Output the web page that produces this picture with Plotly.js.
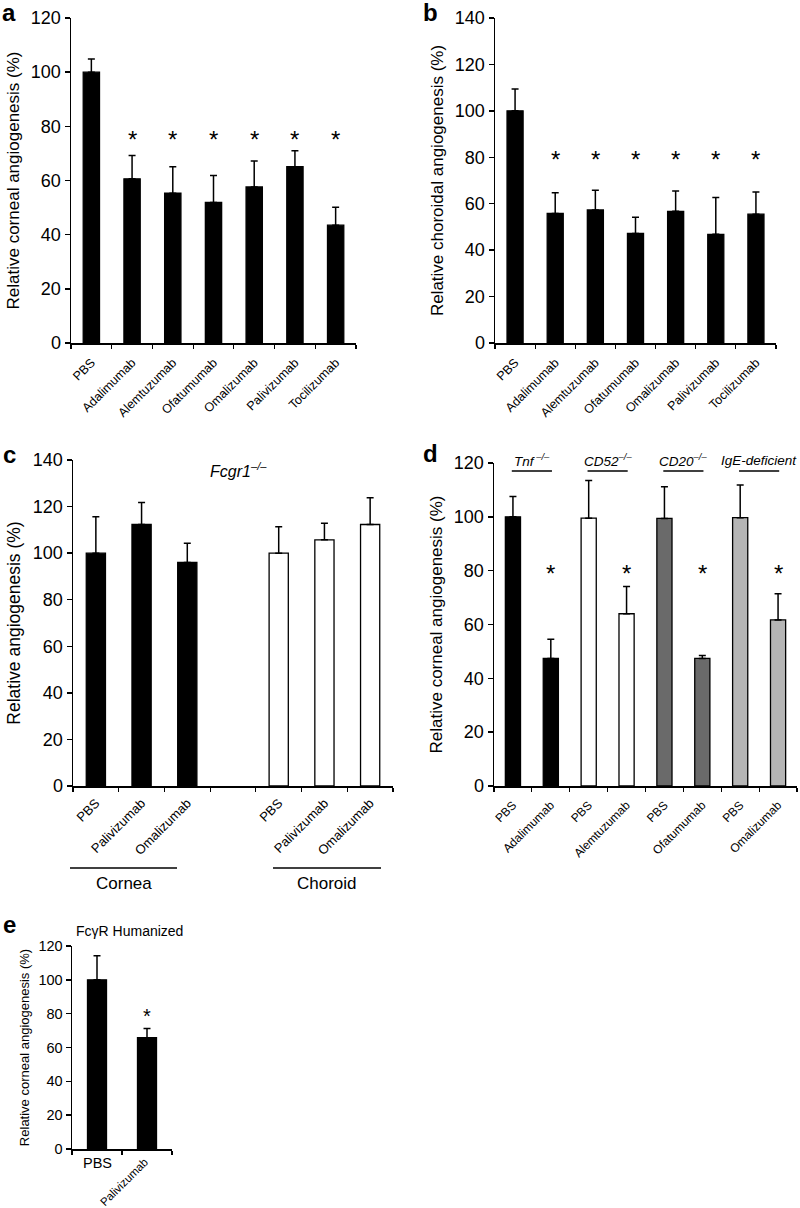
<!DOCTYPE html>
<html><head><meta charset="utf-8">
<script src="https://cdn.plot.ly/plotly-3.0.1.min.js"></script>
<style>html,body{margin:0;padding:0;background:#fff;} #chart{width:800px;height:1208px;}</style>
</head><body><div id="chart"></div>
<script>
// ---------- DATA ----------
// Panel a: relative corneal angiogenesis
const aLabels = ['PBS','Adalimumab','Alemtuzumab','Ofatumumab','Omalizumab','Palivizumab','Tocilizumab'];
const aValues = [100, 60.6, 55.3, 51.9, 57.6, 65.1, 43.5];
const aErrors = [4.9, 8.6, 9.8, 9.9, 9.6, 5.9, 6.6];
const aSignificant = [false, true, true, true, true, true, true];

// Panel b: relative choroidal angiogenesis
const bLabels = ['PBS','Adalimumab','Alemtuzumab','Ofatumumab','Omalizumab','Palivizumab','Tocilizumab'];
const bValues = [100, 55.8, 57.3, 47.2, 56.7, 46.8, 55.5];
const bErrors = [9.4, 8.9, 8.5, 7.0, 8.8, 15.9, 9.5];
const bSignificant = [false, true, true, true, true, true, true];

// Panel c: Fcgr1-/- relative angiogenesis
const cLabels = ['PBS','Palivizumab','Omalizumab'];
const cCornea = [100, 112.3, 96.0];
const cCorneaErr = [15.6, 9.5, 8.2];
const cChoroid = [100, 105.7, 112.3];
const cChoroidErr = [11.3, 7.1, 11.5];
const cTissues = ['Cornea','Choroid'];

// Panel d: knockout mice
const dGroups = ['Tnf<sup> –/–</sup>','CD52<sup>–/–</sup>','CD20<sup>–/–</sup>','IgE-deficient'];
const dDrugs = ['Adalimumab','Alemtuzumab','Ofatumumab','Omalizumab'];
const dPBS = [100, 99.5, 99.4, 99.7];
const dPBSErr = [7.6, 14.0, 11.8, 12.1];
const dDrug = [47.4, 64.0, 47.4, 61.7];
const dDrugErr = [7.1, 10.1, 1.1, 9.7];
const dColors = ['#000000','#ffffff','#6a6a6a','#b5b5b5'];

// Panel e: FcγR humanized
const eLabels = ['PBS','Palivizumab'];
const eValues = [100, 65.8];
const eErrors = [14.2, 5.5];
const eSignificant = [false, true];

// ---------- HELPERS ----------
const W = 800, H = 1208;
const FONT = 'Liberation Sans, Arial, sans-serif';
const px = p => p / W;
const py = p => 1 - p / H;

function bar(xs, ys, errs, color, ax, width) {
  return {
    type: 'bar', x: xs, y: ys, width: width,
    marker: {color: color, line: {color: '#000', width: 1.3}},
    error_y: {type: 'data', symmetric: false, array: errs, arrayminus: errs.map(() => 0),
              color: '#000', thickness: 1.5, width: 3.5},
    xaxis: 'x' + (ax === 1 ? '' : ax), yaxis: 'y' + (ax === 1 ? '' : ax),
    showlegend: false, hoverinfo: 'skip'
  };
}

function xAxis(domPx, n, tickvals, ticktext, fontSize, anchor, showLabels, standoff) {
  const bounds = [];
  for (let i = 0; i <= n; i++) bounds.push(i - 0.5);
  return {
    domain: [px(domPx[0]), px(domPx[1])], range: [-0.5, n - 0.5], anchor: anchor,
    showline: true, linecolor: '#000', linewidth: 1.5, zeroline: false, showgrid: false,
    tickmode: 'array', tickvals: tickvals, ticktext: ticktext, ticks: '',
    showticklabels: showLabels, tickangle: -45, ticklabelstandoff: standoff,
    tickfont: {family: FONT, size: fontSize, color: '#000'},
    minor: {tickmode: 'array', tickvals: bounds, ticks: 'outside', ticklen: 4, tickwidth: 1.2,
            tickcolor: '#000', showgrid: false},
    fixedrange: true
  };
}

function yAxis(domPx, max, title, fontSize, titleSize, anchor, standoff) {
  return {
    domain: [py(domPx[1]), py(domPx[0])], range: [0, max], anchor: anchor,
    tickmode: 'linear', tick0: 0, dtick: 20,
    showline: true, linecolor: '#000', linewidth: 1.5, zeroline: false, showgrid: false,
    ticks: 'outside', ticklen: 5, tickwidth: 1.5, tickcolor: '#000',
    tickfont: {family: FONT, size: fontSize, color: '#000'},
    title: {text: title, font: {family: FONT, size: titleSize, color: '#000'}, standoff: standoff},
    fixedrange: true
  };
}

const idx = arr => arr.map((_, i) => i);

// ---------- TRACES ----------
const traces = [];
traces.push(bar(idx(aValues), aValues, aErrors, '#000', 1, 0.4));
traces.push(bar(idx(bValues), bValues, bErrors, '#000', 2, 0.4));
const cCorneaX = idx(cCornea);
const cChoroidX = cChoroid.map((_, i) => i + cCornea.length + 1);
traces.push(bar(cCorneaX, cCornea, cCorneaErr, '#000', 3, 0.42));
traces.push(bar(cChoroidX, cChoroid, cChoroidErr, '#fff', 3, 0.42));
dGroups.forEach((g, i) => {
  traces.push(bar([2 * i, 2 * i + 1], [dPBS[i], dDrug[i]], [dPBSErr[i], dDrugErr[i]], dColors[i], 4, 0.4));
});
traces.push(bar(idx(eValues), eValues, eErrors, '#000', 5, 0.38));

// ---------- ANNOTATIONS / SHAPES ----------
const annotations = [];
const shapes = [];
function star(ax, x, y, size) {
  annotations.push({xref: 'x' + (ax === 1 ? '' : ax), yref: 'y' + (ax === 1 ? '' : ax), x: x, y: y,
    text: '*', showarrow: false, yshift: -6, font: {family: FONT, size: size, color: '#000'}});
}
aSignificant.forEach((s, i) => { if (s) star(1, i, 77.5, 24); });
bSignificant.forEach((s, i) => { if (s) star(2, i, 81.5, 24); });
dDrug.forEach((_, i) => star(4, 2 * i + 1, 81, 24));
eSignificant.forEach((s, i) => { if (s) star(5, i, 82, 20); });

function letter(t, x, y) {
  annotations.push({xref: 'paper', yref: 'paper', x: px(x), y: py(y), text: '<b>' + t + '</b>',
    showarrow: false, xanchor: 'center', yanchor: 'middle', font: {family: FONT, size: 24, color: '#000'}});
}
letter('a', 9, 12); letter('b', 431, 12); letter('c', 9, 455); letter('d', 431, 453); letter('e', 9, 924);

function text(t, x, y, size, extra) {
  annotations.push(Object.assign({xref: 'paper', yref: 'paper', x: px(x), y: py(y), text: t,
    showarrow: false, xanchor: 'center', yanchor: 'middle', font: {family: FONT, size: size, color: '#000'}}, extra || {}));
}
// panel c title and tissue groups
text('<i>Fcgr1</i><sup><i>–/–</i></sup>', 238, 470, 16);
const tissueSpans = [[70, 177], [273, 381]];
cTissues.forEach((t, i) => {
  shapes.push({type: 'line', xref: 'paper', yref: 'paper', x0: px(tissueSpans[i][0]), x1: px(tissueSpans[i][1]),
    y0: py(868), y1: py(868), line: {color: '#000', width: 1.5}});
  text(t, (tissueSpans[i][0] + tissueSpans[i][1]) / 2, 883, 17);
});
// panel d group labels
dGroups.forEach((g, i) => {
  shapes.push({type: 'line', xref: 'x4', yref: 'paper', x0: 2 * i - 0.03, x1: 2 * i + 1.03,
    y0: py(471), y1: py(471), line: {color: '#000', width: 1.5}});
  annotations.push({xref: 'x4', yref: 'paper', x: 2 * i + 0.5, y: py(460), text: '<i>' + g + '</i>',
    showarrow: false, xanchor: 'center', yanchor: 'middle', font: {family: FONT, size: 13.5, color: '#000'}});
});
// panel e title + category labels
text('Fcγ<span>R</span> Humanized', 129, 931, 14);
annotations.push({xref: 'x5', yref: 'paper', x: 0, y: py(1153), text: eLabels[0], showarrow: false,
  xanchor: 'center', yanchor: 'top', font: {family: FONT, size: 14.5, color: '#000'}});
annotations.push({xref: 'x5', yref: 'paper', x: 1, y: py(1153), text: eLabels[1], showarrow: false,
  xanchor: 'right', yanchor: 'top', textangle: -45, xshift: 6, font: {family: FONT, size: 11.5, color: '#000'}});

// ---------- LAYOUT ----------
const cTickVals = cCorneaX.concat(cChoroidX);
const cTickText = cLabels.concat(cLabels);
const dTickVals = [], dTickText = [];
dDrugs.forEach((d, i) => { dTickVals.push(2 * i, 2 * i + 1); dTickText.push('PBS', d); });

const layout = {
  width: W, height: H, margin: {l: 0, r: 0, t: 0, b: 0},
  paper_bgcolor: '#fff', plot_bgcolor: 'rgba(0,0,0,0)',
  barmode: 'overlay', showlegend: false,
  font: {family: FONT, color: '#000'},
  xaxis: xAxis([71, 356], aLabels.length, idx(aLabels), aLabels, 12.5, 'y', true, 6),
  yaxis: yAxis([18, 343], 120, 'Relative corneal angiogenesis (%)', 18, 17, 'x', 7),
  xaxis2: xAxis([495, 776], bLabels.length, idx(bLabels), bLabels, 12.5, 'y2', true, 6),
  yaxis2: yAxis([18, 343], 140, 'Relative choroidal angiogenesis (%)', 18, 17, 'x2', 7),
  xaxis3: xAxis([73, 393], 7, cTickVals, cTickText, 13, 'y3', true, 3),
  yaxis3: yAxis([460, 786], 140, 'Relative angiogenesis (%)', 18, 17.5, 'x3', 7),
  xaxis4: xAxis([494, 797], 8, dTickVals, dTickText, 12, 'y4', true, 6),
  yaxis4: yAxis([463, 786], 120, 'Relative corneal angiogenesis (%)', 18, 17, 'x4', 7),
  xaxis5: xAxis([72, 172], eLabels.length, idx(eLabels), eLabels, 12, 'y5', false, 6),
  yaxis5: yAxis([946, 1149], 120, 'Relative corneal angiogenesis (%)', 14.5, 13, 'x5', 6),
  annotations: annotations, shapes: shapes
};

Plotly.newPlot('chart', traces, layout, {staticPlot: true, displayModeBar: false});
</script>
</body></html>
